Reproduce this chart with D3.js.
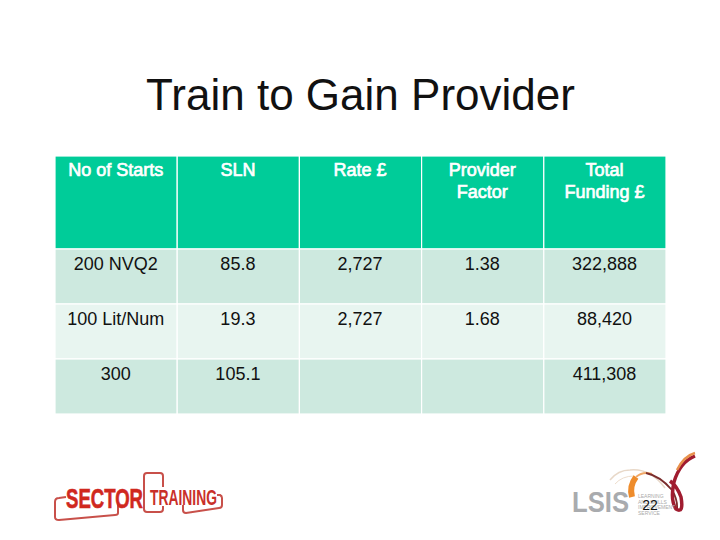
<!DOCTYPE html>
<html>
<head>
<meta charset="utf-8">
<script src="https://cdn.jsdelivr.net/npm/d3@7"></script>
<style>
body { margin: 0; background: #fff; }
text { font-family: "Liberation Sans", Arial, sans-serif; }
</style>
</head>
<body>
<script>
var title = "Train to Gain Provider"
var columns = ["No of Starts", "SLN", "Rate £", "Provider|Factor", "Total|Funding £"]
var row1 = ["200 NVQ2", "85.8", "2,727", "1.38", "322,888"]
var row2 = ["100 Lit/Num", "19.3", "2,727", "1.68", "88,420"]
var row3 = ["300", "105.1", "", "", "411,308"]
var rows = [row1, row2, row3]
var pageNumber = "22"

var svg = d3.select("body").append("svg")
    .attr("width", 720)
    .attr("height", 540)

svg.append("text")
    .attr("x", 360.5)
    .attr("y", 110)
    .attr("text-anchor", "middle")
    .attr("font-size", 44)
    .attr("fill", "#111")
    .text(title)

// table
var xScale = d3.scaleBand()
    .domain(d3.range(columns.length))
    .range([55, 666])

var rowEdge = d3.scaleOrdinal()
    .domain([0, 1, 2, 3])
    .range([156, 249, 304, 359])
var rowHeight = function(i) { return i == 0 ? 93 : 55 }
var rowFills = ["#00cc99", "#cde9df", "#e8f5f0", "#cde9df"]

var allRows = [columns].concat(rows)

var gs = svg.append("g").attr("id", "table")
    .selectAll("g")
    .data(allRows)
    .enter()
    .append("g")
    .attr("transform", function(d, i) { return "translate(0," + rowEdge(i) + ")" })

var cells = gs.selectAll("g")
    .data(function(d, i) {
        return d.map(function(t, c) { return {text: t, col: c, row: i} })
    })
    .enter()
    .append("g")
    .attr("transform", function(d) { return "translate(" + xScale(d.col) + ",0)" })

cells.append("rect")
    .attr("width", xScale.bandwidth())
    .attr("height", function(d) { return rowHeight(d.row) })
    .attr("fill", function(d) { return rowFills[d.row] })
    .attr("stroke", "#fff")
    .attr("stroke-width", 1.2)

cells.each(function(d) {
    var lines = d.text.split("|")
    d3.select(this).selectAll("text")
        .data(lines)
        .enter()
        .append("text")
        .attr("x", xScale.bandwidth() / 2 - 0.4)
        .attr("y", function(l, i) { return (d.row == 0 ? 20 : 21) + i * 22 })
        .attr("text-anchor", "middle")
        .attr("font-size", 18)
        // header is a thickened regular face, not true bold
        .attr("stroke", d.row == 0 ? "#fff" : "none")
        .attr("stroke-width", 0.7)
        .attr("fill", d.row == 0 ? "#fff" : "#111")
        .text(function(l) { return l })
})

// sector training logo
var logo = svg.append("g").attr("id", "sector")
var frames = [
    "M118 502 L118 513 Q118 515 115 515 L59 520 Q55 520 55 517 L55 502 Q55 498 59 498 L66 497",
    "M147 473 L160 473 Q163 473 163 476 L163 487 M163 506 L163 509 Q163 512 160 512 L147 512 Q144 512 144 509 L144 476 Q144 473 147 473",
    "M217 495 L220 495 Q222 496 222 498 L222 505 Q222 508 219 508 L186 513 Q183 513 183 510 L183 505"
]
logo.selectAll("path")
    .data(frames)
    .enter()
    .append("path")
    .attr("d", function(d) { return d })
    .attr("fill", "none").attr("stroke", "#c8504a").attr("stroke-width", 2)
logo.append("text")
    .attr("x", 66).attr("y", 508)
    .attr("font-size", 27).attr("font-weight", "bold")
    .attr("textLength", 77).attr("lengthAdjust", "spacingAndGlyphs")
    .attr("fill", "#d0281e").attr("stroke", "#d0281e").attr("stroke-width", 0.6)
    .text("SECTOR")
logo.append("text")
    .attr("x", 150).attr("y", 505)
    .attr("font-size", 22).attr("font-weight", "bold")
    .attr("textLength", 67).attr("lengthAdjust", "spacingAndGlyphs")
    .attr("fill", "#c9302a")
    .text("TRAINING")

// lsis logo
var lsis = svg.append("g").attr("id", "lsis")
lsis.append("path")
    .attr("d", "M610 480 Q618 470 630 470 Q650 468 665 488")
    .attr("fill", "none").attr("stroke", "#e8d8c8").attr("stroke-width", 1.5)
lsis.append("path")
    .attr("d", "M615 484 Q622 476 634 476")
    .attr("fill", "none").attr("stroke", "#eeddcc").attr("stroke-width", 1)
lsis.append("path")
    .attr("d", "M632 497 Q629 486 636 477")
    .attr("fill", "none").attr("stroke", "#ee8c2c").attr("stroke-width", 6)
lsis.append("path")
    .attr("d", "M636 477 Q643 471 652 474")
    .attr("fill", "none").attr("stroke", "#f0a868").attr("stroke-width", 2)
lsis.append("path")
    .attr("d", "M646 473 Q660 476 672 490 Q678 500 677 510")
    .attr("fill", "none").attr("stroke", "#7a2c2c").attr("stroke-width", 1.8)
lsis.append("path")
    .attr("d", "M695 456 Q680 462 674 482 Q670 500 676 509 Q684 514 681 497 Q677 486 670 481")
    .attr("fill", "none").attr("stroke", "#a01c30").attr("stroke-width", 3.5)
lsis.append("path")
    .attr("d", "M695 453 Q684 456 677 470")
    .attr("fill", "none").attr("stroke", "#e8904c").attr("stroke-width", 2.5)
lsis.append("text")
    .attr("x", 572).attr("y", 512)
    .attr("font-size", 29).attr("font-weight", "bold")
    .attr("textLength", 57).attr("lengthAdjust", "spacingAndGlyphs")
    .attr("fill", "#a9abae")
    .text("LSIS")
var smallText = ["LEARNING", "AND SKILLS", "IMPROVEMENT", "SERVICE"]
lsis.selectAll("text.small")
    .data(smallText)
    .enter()
    .append("text")
    .attr("class", "small")
    .attr("x", 638)
    .attr("y", function(d, i) { return 498 + i * 5.5 })
    .attr("font-size", 5)
    .attr("fill", "#aaa")
    .text(function(d) { return d })

svg.append("text")
    .attr("x", 650)
    .attr("y", 510)
    .attr("text-anchor", "middle")
    .attr("font-size", 14)
    .attr("fill", "#111")
    .text(pageNumber)
</script>
</body>
</html>
